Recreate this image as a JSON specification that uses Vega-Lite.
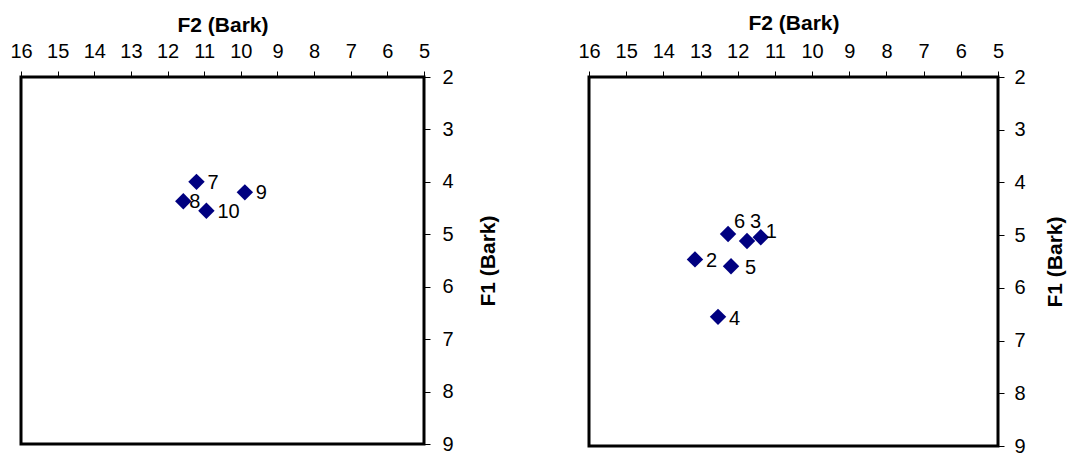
{
  "$schema": "https://vega.github.io/schema/vega-lite/v6.json",
  "padding": {"left": 8, "top": 10, "right": 0, "bottom": 0},
  "background": "white",
  "config": {
    "font": "Liberation Sans",
    "view": {"stroke": "#000", "strokeWidth": 3},
    "axis": {
      "domain": false,
      "grid": false,
      "ticks": true,
      "tickSize": 6,
      "tickColor": "#000",
      "tickWidth": 1,
      "labelFlush": false,
      "labelOverlap": false,
      "labelFont": "Liberation Sans",
      "labelFontSize": 20,
      "labelColor": "#000",
      "titleFont": "Liberation Sans",
      "titleFontSize": 21,
      "titleFontWeight": "bold",
      "titleColor": "#000"
    }
  },
  "datasets": {
    "pts": [
      {"panel": "A", "label": "7", "f2": 11.21, "f1": 4.00},
      {"panel": "A", "label": "8", "f2": 11.57, "f1": 4.37},
      {"panel": "A", "label": "9", "f2": 9.89, "f1": 4.20},
      {"panel": "A", "label": "10", "f2": 10.94, "f1": 4.55},
      {"panel": "B", "label": "1", "f2": 11.38, "f1": 5.04},
      {"panel": "B", "label": "2", "f2": 13.15, "f1": 5.46},
      {"panel": "B", "label": "3", "f2": 11.75, "f1": 5.11},
      {"panel": "B", "label": "4", "f2": 12.53, "f1": 6.55},
      {"panel": "B", "label": "5", "f2": 12.18, "f1": 5.59},
      {"panel": "B", "label": "6", "f2": 12.26, "f1": 4.98}
    ]
  },
  "spacing": 76,
  "hconcat": [
    {
      "width": 403,
      "height": 367,
      "data": {"name": "pts"},
      "transform": [{"filter": "datum.panel == 'A'"}],
      "encoding": {
        "x": {
          "field": "f2", "type": "quantitative",
          "scale": {"domain": [5, 16], "reverse": true, "nice": false, "zero": false},
          "axis": {"orient": "top", "title": "F2 (Bark)", "values": [5, 6, 7, 8, 9, 10, 11, 12, 13, 14, 15, 16], "labelPadding": 10, "titlePadding": 6}
        },
        "y": {
          "field": "f1", "type": "quantitative",
          "scale": {"domain": [2, 9], "reverse": true, "nice": false, "zero": false},
          "axis": {"orient": "right", "title": "F1 (Bark)", "values": [2, 3, 4, 5, 6, 7, 8, 9], "labelPadding": 12, "titleAngle": 270, "titleBaseline": "top", "titlePadding": 24}
        }
      },
      "layer": [
        {"mark": {"type": "point", "shape": "diamond", "filled": true, "color": "#000080", "size": 270, "opacity": 1}},
        {
          "transform": [{"filter": "datum.label != '8'"}],
          "mark": {"type": "text", "align": "left", "baseline": "middle", "dx": 11, "dy": 1, "fontSize": 20, "color": "#000"},
          "encoding": {"text": {"field": "label"}}
        },
        {
          "transform": [{"filter": "datum.label == '8'"}],
          "mark": {"type": "text", "align": "left", "baseline": "middle", "dx": 6, "dy": 1, "fontSize": 20, "color": "#000"},
          "encoding": {"text": {"field": "label"}}
        }
      ]
    },
    {
      "width": 409,
      "height": 369,
      "data": {"name": "pts"},
      "transform": [{"filter": "datum.panel == 'B'"}],
      "encoding": {
        "x": {
          "field": "f2", "type": "quantitative",
          "scale": {"domain": [5, 16], "reverse": true, "nice": false, "zero": false},
          "axis": {"orient": "top", "title": "F2 (Bark)", "values": [5, 6, 7, 8, 9, 10, 11, 12, 13, 14, 15, 16], "labelPadding": 10, "titlePadding": 8}
        },
        "y": {
          "field": "f1", "type": "quantitative",
          "scale": {"domain": [2, 9], "reverse": true, "nice": false, "zero": false},
          "axis": {"orient": "right", "title": "F1 (Bark)", "values": [2, 3, 4, 5, 6, 7, 8, 9], "labelPadding": 10, "titleAngle": 270, "titleBaseline": "top", "titlePadding": 19}
        }
      },
      "layer": [
        {"mark": {"type": "point", "shape": "diamond", "filled": true, "color": "#000080", "size": 270, "opacity": 1}},
        {
          "transform": [{"filter": "datum.label == '2' || datum.label == '4'"}],
          "mark": {"type": "text", "align": "left", "baseline": "middle", "dx": 11, "dy": 2, "fontSize": 20, "color": "#000"},
          "encoding": {"text": {"field": "label"}}
        },
        {
          "transform": [{"filter": "datum.label == '5'"}],
          "mark": {"type": "text", "align": "left", "baseline": "middle", "dx": 14, "dy": 2, "fontSize": 20, "color": "#000"},
          "encoding": {"text": {"field": "label"}}
        },
        {
          "transform": [{"filter": "datum.label == '6'"}],
          "mark": {"type": "text", "align": "left", "baseline": "middle", "dx": 6, "dy": -12, "fontSize": 20, "color": "#000"},
          "encoding": {"text": {"field": "label"}}
        },
        {
          "transform": [{"filter": "datum.label == '3'"}],
          "mark": {"type": "text", "align": "left", "baseline": "middle", "dx": 3, "dy": -19, "fontSize": 20, "color": "#000"},
          "encoding": {"text": {"field": "label"}}
        },
        {
          "transform": [{"filter": "datum.label == '1'"}],
          "mark": {"type": "text", "align": "left", "baseline": "middle", "dx": 5, "dy": -5, "fontSize": 20, "color": "#000"},
          "encoding": {"text": {"field": "label"}}
        }
      ]
    }
  ]
}
